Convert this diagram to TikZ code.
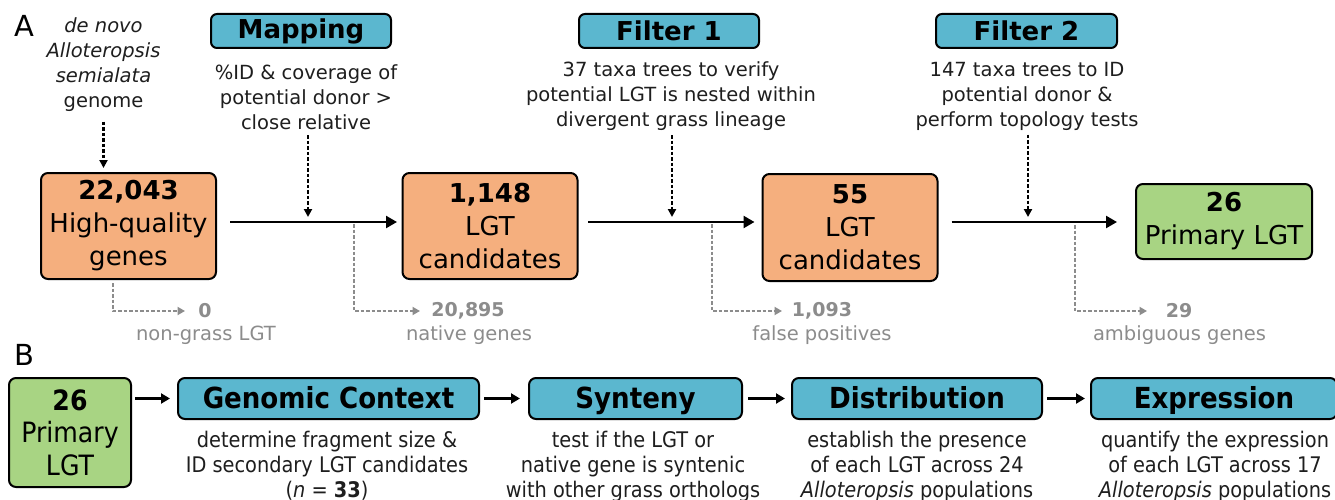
\documentclass[tikz,border=0pt]{standalone}
\usepackage{fontspec}
\setmainfont{DejaVu Sans}
\newfontfamily\condfont{DejaVu Sans}[FakeStretch=0.9]
\usetikzlibrary{arrows.meta}
\definecolor{orangefill}{HTML}{F5AF7E}
\definecolor{bluefill}{HTML}{5BB7CF}
\definecolor{greenfill}{HTML}{A8D483}
\definecolor{graytxt}{HTML}{8C8C8C}
\definecolor{desctxt}{HTML}{1E1E1E}
\begin{document}
\begin{tikzpicture}[x=1pt,y=-1pt,
  box/.style={draw=black, line width=2pt, rounded corners=7pt, inner sep=0pt, align=center},
  orangebox/.style={box, fill=orangefill, minimum width=175pt, minimum height=106pt, font=\fontsize{26}{33}\selectfont},
  greenboxa/.style={box, fill=greenfill, minimum width=176pt, minimum height=75pt, font=\fontsize{26}{33}\selectfont},
  greenboxb/.style={box, fill=greenfill, minimum width=122pt, minimum height=109pt, font=\condfont\fontsize{28}{32.5}\selectfont},
  titlea/.style={box, fill=bluefill, rounded corners=6pt, minimum height=34pt, font=\bfseries\fontsize{26}{30}\selectfont},
  titleb/.style={box, fill=bluefill, rounded corners=7pt, minimum height=41pt, text height=21pt, text depth=2pt, font=\condfont\bfseries\fontsize{29}{33}\selectfont},
  desca/.style={align=center, inner sep=0pt, text=desctxt, font=\fontsize{19.5}{25}\selectfont},
  descb/.style={align=center, inner sep=0pt, text=desctxt, font=\condfont\fontsize{21.5}{25}\selectfont},
  graynum/.style={inner sep=0pt, text=graytxt, font=\bfseries\fontsize{19}{22}\selectfont},
  graylab/.style={inner sep=0pt, text=graytxt, font=\fontsize{19.5}{22}\selectfont},
  mainarrow/.style={line width=2.4pt, -{Triangle[length=11pt,width=12pt]}},
  barrow/.style={line width=2.3pt, -{Triangle[length=9pt,width=10pt]}},
  dotarrow/.style={line width=2.1pt, dash pattern=on 3.5pt off 2pt, -{Triangle[length=8pt,width=8pt]}},
  grayarrow/.style={line width=1.9pt, draw=graytxt, dash pattern=on 3.5pt off 2pt, -{Triangle[length=7.5pt,width=8pt]}}
]
\fill[white] (0,0) rectangle (1335,500);
\useasboundingbox (0,0) rectangle (1335,500);

% panel labels
\node[inner sep=0pt, font=\fontsize{29}{29}\selectfont] (labA) at (24,26) {A};
\node[inner sep=0pt, font=\fontsize{29}{29}\selectfont] (labB) at (24,355) {B};

% ---------- Panel A ----------
\node[desca] (denovo) at (103.5,64.6) {{\itshape de novo}\\{\itshape Alloteropsis}\\{\itshape semialata}\\genome};

\node[orangebox] (hq) at (128.5,226) {\textbf{22,043}\\High-quality\\genes};
\node[orangebox] (c1) at (490,226) {\textbf{1,148}\\LGT\\candidates};
\node[orangebox, minimum height=107pt] (c2) at (850,227.5) {\textbf{55}\\LGT\\candidates};
\node[greenboxa] (plgt) at (1224,221.5) {\textbf{26}\\Primary LGT};

\node[titlea, minimum width=180pt] (map) at (301,31) {Mapping};
\node[titlea, minimum width=180pt] (f1) at (669,31) {Filter 1};
\node[titlea, minimum width=181pt] (f2) at (1026.5,31) {Filter 2};

\node[desca] (mapd) at (306,97.6) {\%ID \& coverage of\\potential donor >\\close relative};
\node[desca] (f1d) at (671,96.4) {37 taxa trees to verify\\potential LGT is nested within\\divergent grass lineage};
\node[desca] (f2d) at (1027,96.4) {147 taxa trees to ID\\potential donor \&\\perform topology tests};

\coordinate (row) at (0,222);
\coordinate (j1) at (308,217);
\coordinate (j2) at (672,217);
\coordinate (j3) at (1028,217);

% main arrows
\draw[mainarrow, shorten <=13pt, shorten >=4.5pt] (hq.east |- row) -- (c1.west |- row);
\draw[mainarrow, shorten <=9.5pt, shorten >=7pt] (c1.east |- row) -- (c2.west |- row);
\draw[mainarrow, shorten <=13pt, shorten >=18pt] (c2.east |- row) -- (plgt.west |- row);

% dotted input arrows
\draw[dotarrow, shorten <=10pt, shorten >=4pt] (denovo.south) -- (denovo.south |- hq.north);
\draw[dotarrow, shorten <=5pt] (mapd.south -| j1) -- (j1);
\draw[dotarrow, shorten <=4pt] (f1d.south -| j2) -- (j2);
\draw[dotarrow, shorten <=4pt] (f2d.south -| j3) -- (j3);

% gray outputs
\node[graynum] (n0) at (205,311) {0};
\node[graylab] (l0) at (206,335) {non-grass LGT};
\node[graynum] (n1) at (468,311) {20,895};
\node[graylab] (l1) at (469,335) {native genes};
\node[graynum] (n2) at (822,311) {1,093};
\node[graylab] (l2) at (822,335) {false positives};
\node[graynum] (n3) at (1179,311) {29};
\node[graylab] (l3) at (1179.5,335) {ambiguous genes};

\coordinate (s0) at (113,283);
\coordinate (e0) at (185,311);
\coordinate (s1) at (354,224);
\coordinate (e1) at (420,311);
\coordinate (s2) at (712,224);
\coordinate (e2) at (782,311);
\coordinate (s3) at (1075,225);
\coordinate (e3) at (1147,311);
\draw[grayarrow] (s0) |- (e0);
\draw[grayarrow] (s1) |- (e1);
\draw[grayarrow] (s2) |- (e2);
\draw[grayarrow] (s3) |- (e3);

% ---------- Panel B ----------
\node[greenboxb] (p26) at (70,432.5) {\textbf{26}\\Primary\\LGT};
\node[titleb, minimum width=301pt] (gc) at (328.5,398.5) {Genomic Context};
\node[titleb, minimum width=213pt] (syn) at (635.5,398.5) {Synteny};
\node[titleb, minimum width=250pt] (dist) at (917,398.5) {Distribution};
\node[titleb, minimum width=246pt] (expr) at (1214,398.5) {Expression};

\draw[barrow, shorten <=3pt, shorten >=7pt] (p26.east |- gc.west) -- (gc.west);
\draw[barrow, shorten <=4pt, shorten >=8pt] (gc.east) -- (syn.west);
\draw[barrow, shorten <=5pt, shorten >=6pt] (syn.east) -- (dist.west);
\draw[barrow, shorten <=4pt, shorten >=5pt] (dist.east) -- (expr.west);

\node[descb] (gcd) at (327,465.5) {determine fragment size \&\\ID secondary LGT candidates\\(\textit{n} = \textbf{33})};
\node[descb] (synd) at (633,466.5) {test if the LGT or\\native gene is syntenic\\with other grass orthologs};
\node[descb] (distd) at (917,466.5) {establish the presence\\of each LGT across 24\\\textit{Alloteropsis} populations};
\node[descb] (exprd) at (1215,466.5) {quantify the expression\\of each LGT across 17\\\textit{Alloteropsis} populations};
\end{tikzpicture}
\end{document}
